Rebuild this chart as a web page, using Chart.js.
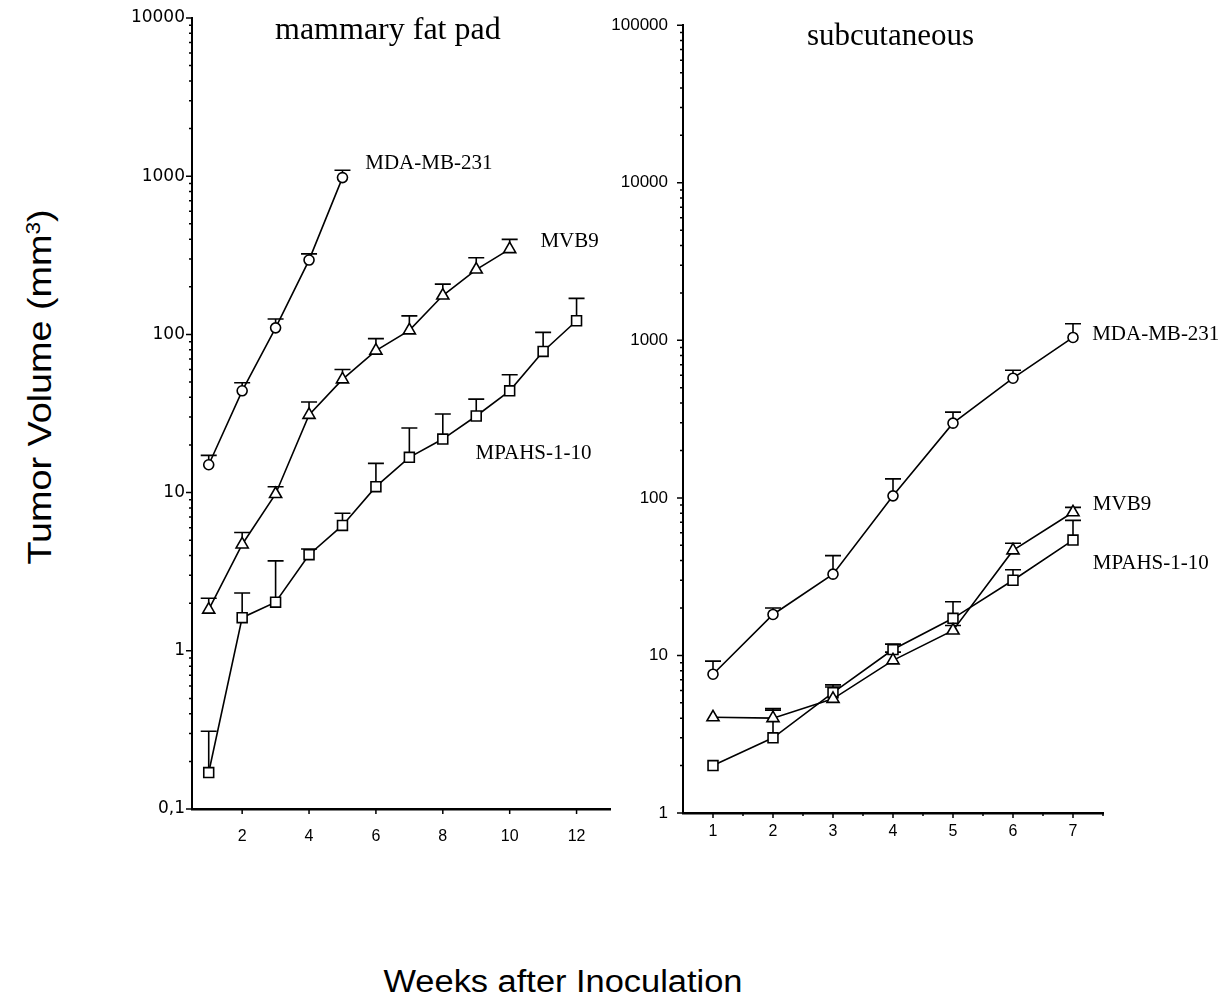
<!DOCTYPE html>
<html>
<head>
<meta charset="utf-8">
<title>Tumor Volume</title>
<script src="https://cdn.jsdelivr.net/npm/chart.js@4.4.1/dist/chart.umd.min.js"></script>
<style>
  html, body { margin: 0; padding: 0; background: #fff; }
  body { width: 1225px; height: 1002px; position: relative; overflow: hidden; }
  canvas { position: absolute; top: 0; }
  #leftChart { left: 100px; }
  #rightChart { left: 600px; }
  .txt { position: absolute; white-space: nowrap; color: #000; line-height: 1; }
  .sans { font-family: "Liberation Sans", Arial, sans-serif; }
  .serif { font-family: "Liberation Serif", "Times New Roman", serif; }
  #yTitle { left: 39px; top: 387px; font-size: 34px; transform: translate(-50%, -50%) rotate(-90deg) scaleX(1.11); }
  #yTitle sup { font-size: 0.6em; vertical-align: 0.55em; line-height: 0; }
  #xTitle { left: 563px; top: 981px; font-size: 31px; transform: translate(-50%, -50%) scaleX(1.11); }
  #leftTitle { left: 275px; top: 12px; font-size: 32px; }
  #rightTitle { left: 807px; top: 19px; font-size: 31px; }
</style>
</head>
<body>
<canvas id="leftChart" width="520" height="880"></canvas>
<canvas id="rightChart" width="625" height="880"></canvas>
<div id="leftTitle" class="txt serif">mammary fat pad</div>
<div id="rightTitle" class="txt serif">subcutaneous</div>
<div id="yTitle" class="txt sans">Tumor Volume (mm<sup>3</sup>)</div>
<div id="xTitle" class="txt sans">Weeks after Inoculation</div>
<script>
// axis ticks
const leftYTicks = [0.1, 1, 10, 100, 1000, 10000];
const leftYTickLabels = ['0,1', '1', '10', '100', '1000', '10000'];
const leftXTicks = [2, 4, 6, 8, 10, 12];
const leftXMinor = [];

const rightYTicks = [1, 10, 100, 1000, 10000, 100000];
const rightYTickLabels = ['1', '10', '100', '1000', '10000', '100000'];
const rightXTicks = [1, 2, 3, 4, 5, 6, 7];
const rightXMinor = [1.5, 2.5, 3.5, 4.5, 5.5, 6.5, 7.5];

// mammary fat pad (weeks, mean, top of error bar)
const leftWeeksMDA = [1, 2, 3, 4, 5];
const leftMDA = [15, 44, 110, 295, 980];
const leftMDAErr = [17.2, 49.5, 125, 323, 1090];

const leftWeeksMVB9 = [1, 2, 3, 4, 5, 6, 7, 8, 9, 10];
const leftMVB9 = [1.82, 4.7, 9.8, 31, 52, 79, 106, 176, 257, 346];
const leftMVB9Err = [2.15, 5.6, 10.9, 37.4, 60, 94, 131, 208, 305, 399];

const leftWeeksMPAHS = [1, 2, 3, 4, 5, 6, 7, 8, 9, 10, 11, 12];
const leftMPAHS = [0.17, 1.62, 2.03, 4.05, 6.2, 10.9, 16.7, 21.8, 30.5, 44, 78, 122];
const leftMPAHSErr = [0.31, 2.32, 3.7, 4.4, 7.4, 15.3, 25.6, 31.4, 39, 55.6, 103, 169];

// subcutaneous
const rightWeeks = [1, 2, 3, 4, 5, 6, 7];
const rightMDA = [7.6, 18.2, 32.8, 103, 298, 575, 1043];
const rightMDAErr = [9.2, 20, 43, 132, 350, 646, 1273];
const rightMVB9 = [4.05, 4.0, 5.3, 9.3, 14.4, 46.4, 81];
const rightMVB9Err = [null, 4.6, 6.3, 10.5, 15.5, 51.5, 87];
const rightMPAHS = [2.0, 3.0, 5.8, 10.9, 17.2, 30, 54];
const rightMPAHSErr = [null, 4.5, 6.5, 11.8, 21.9, 35, 72];

const seriesNames = ['MDA-MB-231', 'MVB9', 'MPAHS-1-10'];

const toPoints = (xs, ys) => xs.map((x, i) => ({ x: x, y: ys[i] }));

function series(name, xs, ys, err, style, radius) {
    return {
        label: name,
        data: toPoints(xs, ys),
        errTop: err,
        borderColor: '#000',
        borderWidth: 1.6,
        pointStyle: style,
        pointRadius: radius,
        pointBackgroundColor: '#fff',
        pointBorderColor: '#000',
        pointBorderWidth: 1.6,
        tension: 0
    };
}

// upper error whiskers with a cap
const errorBars = {
    id: 'errorBars',
    beforeDatasetsDraw(chart) {
        const { ctx, scales: { x, y } } = chart;
        ctx.save();
        ctx.strokeStyle = '#000';
        ctx.lineWidth = 1.6;
        chart.data.datasets.forEach(ds => {
            ds.data.forEach((p, i) => {
                const top = ds.errTop[i];
                if (top == null) return;
                const px = x.getPixelForValue(p.x);
                const y0 = y.getPixelForValue(p.y);
                const y1 = y.getPixelForValue(top);
                ctx.beginPath();
                ctx.moveTo(px, y0);
                ctx.lineTo(px, y1);
                ctx.moveTo(px - 8, y1);
                ctx.lineTo(px + 8, y1);
                ctx.stroke();
            });
        });
        ctx.restore();
    }
};

// outward tick marks, long for decades, short for the rest
const axisTicks = {
    id: 'axisTicks',
    afterDraw(chart, args, opts) {
        const { ctx, chartArea: a, scales: { x, y } } = chart;
        ctx.save();
        ctx.strokeStyle = '#000';
        ctx.lineWidth = 1.5;
        ctx.beginPath();
        opts.yMajor.forEach((v, i) => {
            const py = y.getPixelForValue(v);
            ctx.moveTo(a.left, py);
            ctx.lineTo(a.left - 6, py);
            if (i < opts.yMajor.length - 1) {
                for (let k = 2; k <= 9; k++) {
                    const pm = y.getPixelForValue(v * k);
                    ctx.moveTo(a.left, pm);
                    ctx.lineTo(a.left - 3, pm);
                }
            }
        });
        opts.xMajor.forEach(v => {
            const px = x.getPixelForValue(v);
            ctx.moveTo(px, a.bottom);
            ctx.lineTo(px, a.bottom + 5);
        });
        opts.xMinor.forEach(v => {
            const px = x.getPixelForValue(v);
            ctx.moveTo(px, a.bottom);
            ctx.lineTo(px, a.bottom + 3);
        });
        ctx.stroke();
        ctx.restore();
    }
};

// series names placed in data coordinates
const seriesLabels = {
    id: 'seriesLabels',
    afterDraw(chart, args, opts) {
        const { ctx, scales: { x, y } } = chart;
        ctx.save();
        ctx.fillStyle = '#000';
        ctx.font = '21px "Liberation Serif", "Times New Roman", serif';
        ctx.textAlign = 'left';
        ctx.textBaseline = 'alphabetic';
        opts.items.forEach(it => {
            ctx.fillText(it.text, x.getPixelForValue(it.x), y.getPixelForValue(it.y));
        });
        ctx.restore();
    }
};

function makePanel(canvasId, p) {
    const findLabel = v => {
        const i = p.yTicks.findIndex(t => Math.abs(Math.log10(t) - Math.log10(v)) < 1e-6);
        return i >= 0 ? p.yLabels[i] : '';
    };
    return new Chart(document.getElementById(canvasId), {
        type: 'line',
        data: { datasets: p.datasets },
        options: {
            responsive: false,
            animation: false,
            events: [],
            layout: { padding: { top: 18, right: p.padRight, bottom: 0, left: 0 } },
            plugins: {
                legend: { display: false },
                tooltip: { enabled: false },
                axisTicks: { yMajor: p.yTicks, xMajor: p.xTicks, xMinor: p.xMinor },
                seriesLabels: { items: p.labels }
            },
            scales: {
                x: {
                    type: 'linear',
                    min: p.xMin,
                    max: p.xMax,
                    afterBuildTicks: s => { s.ticks = p.xTicks.map(v => ({ value: v })); },
                    afterFit: s => { s.height = p.xHeight; },
                    grid: { display: false, drawTicks: false },
                    border: { display: true, color: '#000', width: 2.5 },
                    ticks: {
                        color: '#000',
                        padding: p.xPad,
                        autoSkip: false,
                        maxRotation: 0,
                        font: { family: 'Liberation Sans', size: 16 }
                    }
                },
                y: {
                    type: 'logarithmic',
                    min: p.yTicks[0],
                    max: p.yTicks[p.yTicks.length - 1],
                    afterBuildTicks: s => { s.ticks = p.yTicks.map(v => ({ value: v, major: true })); },
                    afterFit: s => { s.width = p.yWidth; },
                    grid: { display: false, drawTicks: false },
                    border: { display: true, color: '#000', width: 2 },
                    ticks: {
                        color: '#000',
                        padding: p.yPad,
                        autoSkip: false,
                        font: { family: p.yFont, size: 17 },
                        callback: v => findLabel(v)
                    }
                }
            }
        },
        plugins: [errorBars, axisTicks, seriesLabels]
    });
}

makePanel('leftChart', {
    datasets: [
        series(seriesNames[0], leftWeeksMDA, leftMDA, leftMDAErr, 'circle', 5),
        series(seriesNames[1], leftWeeksMVB9, leftMVB9, leftMVB9Err, 'triangle', 7),
        series(seriesNames[2], leftWeeksMPAHS, leftMPAHS, leftMPAHSErr, 'rect', 7)
    ],
    labels: [
        { text: seriesNames[0], x: 5.68, y: 1104 },
        { text: seriesNames[1], x: 10.92, y: 357 },
        { text: seriesNames[2], x: 8.98, y: 16.2 }
    ],
    xMin: 0.5, xMax: 13,
    xTicks: leftXTicks, xMinor: leftXMinor,
    yTicks: leftYTicks, yLabels: leftYTickLabels,
    yWidth: 92, xHeight: 71, padRight: 10, yPad: 7, xPad: 18,
    yFont: 'DejaVu Sans'
});

makePanel('rightChart', {
    datasets: [
        series(seriesNames[0], rightWeeks, rightMDA, rightMDAErr, 'circle', 5),
        series(seriesNames[1], rightWeeks, rightMVB9, rightMVB9Err, 'triangle', 7),
        series(seriesNames[2], rightWeeks, rightMPAHS, rightMPAHSErr, 'rect', 7)
    ],
    labels: [
        { text: seriesNames[0], x: 7.32, y: 1000 },
        { text: seriesNames[1], x: 7.33, y: 83.6 },
        { text: seriesNames[2], x: 7.33, y: 35.4 }
    ],
    xMin: 0.5, xMax: 7.5,
    xTicks: rightXTicks, xMinor: rightXMinor,
    yTicks: rightYTicks, yLabels: rightYTickLabels,
    yWidth: 83, xHeight: 67, padRight: 122, yPad: 15, xPad: 9,
    yFont: 'Liberation Sans'
});
</script>
</body>
</html>
